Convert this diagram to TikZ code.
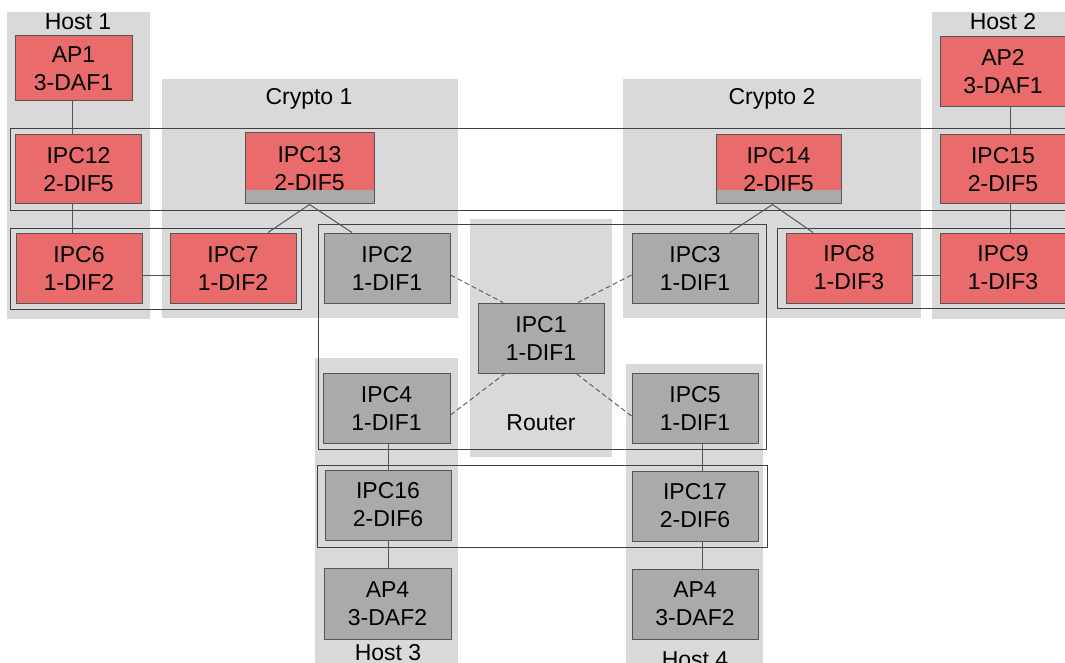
\documentclass[tikz,border=0pt]{standalone}
\usepackage{fontspec}
\setmainfont{Liberation Sans}
\definecolor{panelc}{RGB}{217,217,217}
\definecolor{redc}{RGB}{234,107,107}
\definecolor{greyc}{RGB}{170,170,170}
\definecolor{bordc}{RGB}{85,85,85}
\definecolor{framec}{RGB}{64,64,64}
\tikzset{
  panel/.style={fill=panelc, draw=none},
  frame/.style={draw=framec, line width=1pt},
  box/.style={draw=bordc, line width=1pt, minimum width=126pt, minimum height=70pt,
    inner sep=0pt, align=center, text=black, font=\fontsize{23}{28}\selectfont},
  redbox/.style={box, fill=redc},
  greybox/.style={box, fill=greyc},
  stripbox/.style={box, fill=redc, path picture={\fill[greyc] ([yshift=14pt]path picture bounding box.south west) rectangle (path picture bounding box.south east);}},
  lbl/.style={anchor=base, inner sep=0pt, font=\fontsize{23}{28}\selectfont},
  link/.style={draw=bordc, line width=1pt},
  dlink/.style={draw=bordc, line width=0.9pt, dash pattern=on 5pt off 3pt},
}
\begin{document}
\begin{tikzpicture}[x=1pt, y=-1pt]
\useasboundingbox (0,0) rectangle (1065,663);
\clip (0,0) rectangle (1065,663);
% panels
\fill[panel] (7,12) rectangle (150,319);
\fill[panel] (162,79) rectangle (458,318);
\fill[panel] (623,79) rectangle (921,318);
\fill[panel] (932,12) rectangle (1075,319);
\fill[panel] (470,219) rectangle (612,457);
\fill[panel] (315,358) rectangle (458,670);
\fill[panel] (626,364) rectangle (763,670);
% panel labels
\node[lbl] (host1) at (78,30) {Host 1};
\node[lbl] (crypto1) at (309,105) {Crypto 1};
\node[lbl] (crypto2) at (772,105) {Crypto 2};
\node[lbl] (host2) at (1003,30) {Host 2};
\node[lbl] (router) at (541,430) {Router};
\node[lbl] (host3) at (388,660) {Host 3};
\node[lbl] (host4) at (695,667) {Host 4};
% DIF frames
\draw[frame] (10,129) rectangle (1075,211);
\draw[frame] (10,228) rectangle (301,309);
\draw[frame] (318,224) rectangle (766,449);
\draw[frame] (777,228) rectangle (1075,308);
\draw[frame] (317,465) rectangle (767,547);
% boxes
\node[redbox, minimum width=117pt, minimum height=65pt] (ap1) at (73.5,68.5) {AP1\\3-DAF1};
\node[redbox, minimum height=69pt] (ipc12) at (78.5,169.5) {IPC12\\2-DIF5};
\node[redbox] (ipc6) at (79,268) {IPC6\\1-DIF2};
\node[redbox] (ipc7) at (233,268) {IPC7\\1-DIF2};
\node[stripbox, minimum width=129pt, minimum height=71pt] (ipc13) at (309.5,168.5) {IPC13\\2-DIF5};
\node[greybox] (ipc2) at (387,268) {IPC2\\1-DIF1};
\node[greybox] (ipc3) at (695,268) {IPC3\\1-DIF1};
\node[stripbox, minimum width=125pt, minimum height=69pt] (ipc14) at (778.5,169.5) {IPC14\\2-DIF5};
\node[redbox] (ipc8) at (849,268) {IPC8\\1-DIF3};
\node[redbox] (ipc9) at (1003,268) {IPC9\\1-DIF3};
\node[redbox, minimum height=69pt] (ipc15) at (1003,169.5) {IPC15\\2-DIF5};
\node[redbox] (ap2) at (1003,72) {AP2\\3-DAF1};
\node[greybox] (ipc1) at (541,338) {IPC1\\1-DIF1};
\node[greybox, minimum width=127pt] (ipc4) at (386.5,408) {IPC4\\1-DIF1};
\node[greybox] (ipc5) at (695,408) {IPC5\\1-DIF1};
\node[greybox] (ipc16) at (388,505) {IPC16\\2-DIF6};
\node[greybox] (ipc17) at (695,506) {IPC17\\2-DIF6};
\node[greybox, minimum width=127pt, minimum height=71pt] (ap4a) at (387.5,603.5) {AP4\\3-DAF2};
\node[greybox] (ap4b) at (695,604) {AP4\\3-DAF2};
% solid connectors
\draw[link] ([xshift=-1.5pt]ap1.south) -- ([xshift=-1.5pt]ap1.south |- ipc12.north);
\draw[link] ([xshift=-6.5pt]ipc12.south) -- ([xshift=-6.5pt]ipc12.south |- ipc6.north);
\draw[link] ([yshift=-7pt]ipc6.east) -- ([yshift=-7pt]ipc7.west);
\draw[link] (ipc13.south) -- ([xshift=35pt]ipc7.north);
\draw[link] (ipc13.south) -- ([xshift=-35pt]ipc2.north);
\draw[link] ([xshift=-6pt]ipc14.south) -- ([xshift=35pt]ipc3.north);
\draw[link] ([xshift=-6pt]ipc14.south) -- ([xshift=-36pt]ipc8.north);
\draw[link] ([xshift=7pt]ap2.south) -- ([xshift=7pt]ap2.south |- ipc15.north);
\draw[link] ([xshift=7pt]ipc15.south) -- ([xshift=7pt]ipc15.south |- ipc9.north);
\draw[link] ([yshift=-7pt]ipc8.east) -- ([yshift=-7pt]ipc9.west);
\draw[link] ([xshift=1.5pt]ipc4.south) -- ([xshift=1.5pt]ipc4.south |- ipc16.north);
\draw[link] (ipc16.south) -- (ipc16.south |- ap4a.north);
\draw[link] ([xshift=7pt]ipc5.south) -- ([xshift=7pt]ipc5.south |- ipc17.north);
\draw[link] ([xshift=7pt]ipc17.south) -- ([xshift=7pt]ipc17.south |- ap4b.north);
% dashed connectors
\draw[dlink] ([yshift=-7pt]ipc2.east) -- ([xshift=-38pt]ipc1.north);
\draw[dlink] ([yshift=-7pt]ipc3.west) -- ([xshift=37pt]ipc1.north);
\draw[dlink] ([yshift=-7pt]ipc4.east) -- ([xshift=-36pt]ipc1.south);
\draw[dlink] ([yshift=-8pt]ipc5.west) -- ([xshift=35pt]ipc1.south);
\end{tikzpicture}
\end{document}
